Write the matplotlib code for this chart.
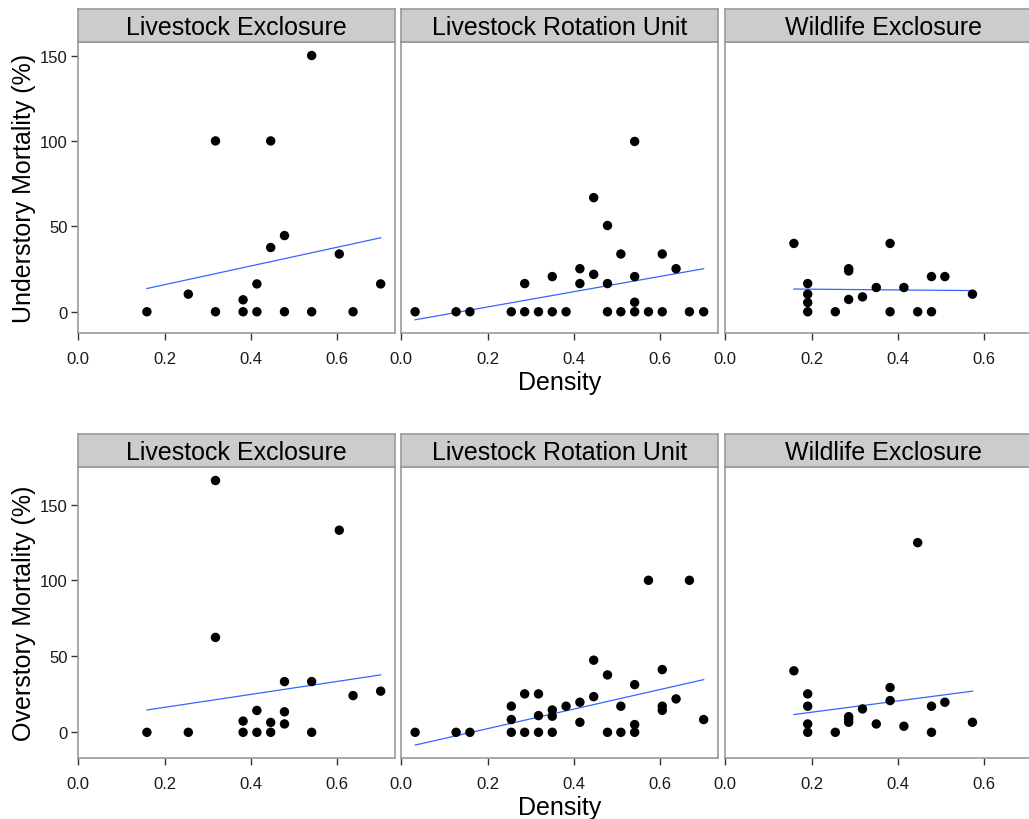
import matplotlib
matplotlib.use("Agg")
import matplotlib.pyplot as plt
import numpy as np

plt.rcParams["font.family"] = ["Liberation Sans", "DejaVu Sans"]

SITES = ["Livestock Exclosure", "Livestock Rotation Unit", "Wildlife Exclosure"]
ROW_LABELS = ["Understory Mortality (%)", "Overstory Mortality (%)"]

# ── understory mortality vs density ──────────────────────────────────────────
under_le_x = [0.159, 0.255, 0.318, 0.318, 0.382, 0.382, 0.414, 0.414, 0.446, 0.446,
              0.478, 0.478, 0.541, 0.541, 0.605, 0.637, 0.701]
under_le_y = [0, 10.3, 100, 0, 7.0, 0, 16.3, 0, 100, 37.6,
              44.6, 0, 150, 0, 33.8, 0, 16.3]

under_lru_x = [0.032, 0.127, 0.159, 0.255, 0.286, 0.286, 0.318, 0.350, 0.350, 0.382,
               0.414, 0.414, 0.446, 0.446, 0.478, 0.478, 0.478, 0.509, 0.509,
               0.541, 0.541, 0.541, 0.541, 0.573, 0.605, 0.605, 0.637, 0.668, 0.701]
under_lru_y = [0, 0, 0, 0, 16.5, 0, 0, 20.6, 0, 0,
               25.2, 16.5, 66.8, 21.9, 50.5, 16.5, 0, 33.8, 0,
               99.7, 20.6, 5.6, 0, 0, 33.8, 0, 25.2, 0, 0]

under_we_x = [0.159, 0.191, 0.191, 0.191, 0.191, 0.255, 0.286, 0.286, 0.286, 0.318,
              0.350, 0.382, 0.382, 0.414, 0.446, 0.478, 0.478, 0.509, 0.573]
under_we_y = [40.0, 16.5, 10.3, 5.4, 0, 0, 25.2, 23.9, 7.2, 8.7,
              14.2, 40.0, 0, 14.2, 0, 20.6, 0, 20.6, 10.3]

# ── overstory mortality vs density ───────────────────────────────────────────
over_le_x = [0.159, 0.255, 0.318, 0.318, 0.382, 0.382, 0.414, 0.414, 0.446, 0.446,
             0.478, 0.478, 0.478, 0.541, 0.541, 0.605, 0.637, 0.701]
over_le_y = [0, 0, 165.8, 62.5, 7.4, 0, 14.4, 0, 6.5, 0,
             33.4, 13.5, 5.5, 33.4, 0, 133.1, 24.2, 27.1]

over_lru_x = [0.032, 0.127, 0.159, 0.255, 0.255, 0.255, 0.286, 0.286, 0.318, 0.318,
              0.318, 0.350, 0.350, 0.350, 0.382, 0.414, 0.414, 0.446, 0.446, 0.478,
              0.478, 0.509, 0.509, 0.541, 0.541, 0.541, 0.573, 0.605, 0.605, 0.605,
              0.637, 0.668, 0.701]
over_lru_y = [0, 0, 0, 17.2, 8.4, 0, 25.3, 0, 25.3, 11.0,
              0, 14.7, 10.6, 0, 17.2, 19.8, 6.6, 47.5, 23.5, 37.8,
              0, 17.2, 0, 31.4, 5.1, 0, 100.1, 41.3, 17.2, 14.5,
              22.0, 100.1, 8.4]

over_we_x = [0.159, 0.191, 0.191, 0.191, 0.191, 0.255, 0.286, 0.286, 0.286, 0.318,
             0.350, 0.382, 0.382, 0.414, 0.446, 0.478, 0.478, 0.509, 0.573]
over_we_y = [40.5, 25.3, 17.2, 5.5, 0, 0, 10.3, 8.4, 6.6, 15.4,
             5.5, 29.5, 20.9, 4.0, 124.9, 17.2, 0, 19.8, 6.6]

# linear trend lines: (x start, x end) and (y start, y end)
under_trend_x = [[0.159, 0.701], [0.032, 0.701], [0.159, 0.573]]
under_trend_y = [[13.6, 43.3], [-4.7, 25.2], [13.3, 12.4]]
over_trend_x = [[0.159, 0.701], [0.032, 0.701], [0.159, 0.573]]
over_trend_y = [[14.7, 37.8], [-8.4, 34.7], [11.7, 27.1]]

rows = [
    ([(under_le_x, under_le_y), (under_lru_x, under_lru_y), (under_we_x, under_we_y)],
     under_trend_x, under_trend_y),
    ([(over_le_x, over_le_y), (over_lru_x, over_lru_y), (over_we_x, over_we_y)],
     over_trend_x, over_trend_y),
]

W, H = 1029, 820
fig = plt.figure(figsize=(W / 100, H / 100), dpi=100)

PANEL_LEFT = [77.7, 400.7, 724.7]
PANEL_W = 317.4
ROW_TOP = [43.3, 468.3]      # top of plot area (px from top)
ROW_BOT = [334.0, 759.3]
STRIP_H = 33.0
BORDER = "#999999"

def expand(lo, hi, f=0.05):
    pad = (hi - lo) * f
    return lo - pad, hi + pad

all_x = np.concatenate([np.asarray(xs) for r in rows for xs, _ in r[0]])
xlim = expand(all_x.min(), all_x.max())

for r, (panels, tx, ty) in enumerate(rows):
    ys_all = np.concatenate([np.asarray(ys) for _, ys in panels] + [np.ravel(ty)])
    ylim = expand(ys_all.min(), ys_all.max())
    top, bot = ROW_TOP[r], ROW_BOT[r]
    for c, ((xs, ys), lx, ly) in enumerate(zip(panels, tx, ty)):
        ax = fig.add_axes([PANEL_LEFT[c] / W, 1 - bot / H, PANEL_W / W, (bot - top) / H])
        ax.scatter(xs, ys, s=46, color="black", edgecolors="none", zorder=3)
        ax.plot(lx, ly, color="#3366FF", linewidth=0.9, zorder=2)
        ax.set_xlim(xlim)
        ax.set_ylim(ylim)
        ax.set_xticks([0.0, 0.2, 0.4, 0.6])
        ax.set_xticklabels(["0.0", "0.2", "0.4", "0.6"])
        ax.tick_params(axis="x", length=5, width=1, color="#333333", pad=8,
                       labelsize=12, labelcolor="#1a1a1a")
        if c == 0:
            ax.set_yticks([0, 50, 100, 150])
            ax.tick_params(axis="y", length=5, width=1, color="#333333", pad=2,
                           labelsize=12, labelcolor="#1a1a1a")
        else:
            ax.set_yticks([])
        for sp in ax.spines.values():
            sp.set_color(BORDER)
            sp.set_linewidth(1.2)

        # facet strip
        sax = fig.add_axes([PANEL_LEFT[c] / W, 1 - top / H, PANEL_W / W, STRIP_H / H])
        sax.set_facecolor("#CCCCCC")
        sax.set_xticks([])
        sax.set_yticks([])
        for sp in sax.spines.values():
            sp.set_color(BORDER)
            sp.set_linewidth(1.2)
        sax.text(0.5, 0.47, SITES[c], transform=sax.transAxes, ha="center",
                 va="center", fontsize=18, color="black")

    # axis titles
    fig.text(24 / W, 1 - (top + bot) / 2 / H, ROW_LABELS[r], rotation=90,
             ha="center", va="center", fontsize=18)
    fig.text(560 / W, 1 - (bot + 49) / H, "Density", ha="center", va="center",
             fontsize=18)

fig.savefig("out.png", dpi=100)
